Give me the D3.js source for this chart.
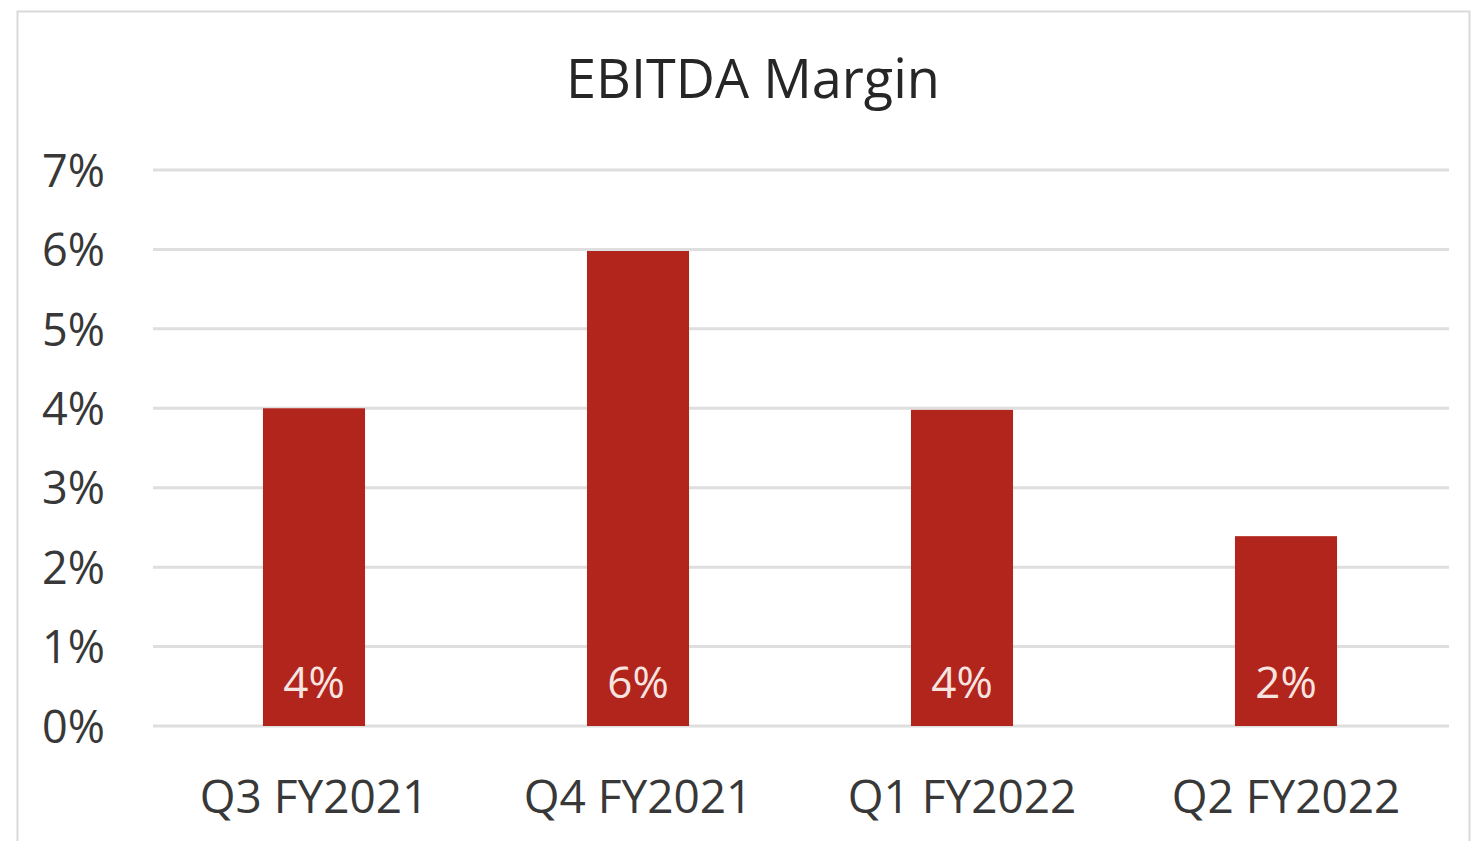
<!DOCTYPE html>
<html>
<head>
<meta charset="utf-8">
<script src="https://cdn.jsdelivr.net/npm/d3@7"></script>
<style>
  body { margin: 0; background: #fff; }
  svg { display: block; }
</style>
</head>
<body>
<script>
// chart data
var categories = ["Q3 FY2021", "Q4 FY2021", "Q1 FY2022", "Q2 FY2022"];
var margins = [4.0, 5.98, 3.98, 2.39];
var valueLabels = ["4%", "6%", "4%", "2%"];
var yTicks = [0, 1, 2, 3, 4, 5, 6, 7];

var W = 1472, H = 841;
var font = "'Open Sans', sans-serif";

var svg = d3.select("body").append("svg").attr("width", W).attr("height", H);

// outer frame
svg.append("rect")
  .attr("x", 17.5).attr("y", 11.5)
  .attr("width", 1452).attr("height", 850)
  .attr("fill", "#fff").attr("stroke", "#d9d9d9").attr("stroke-width", 2);

// scales
var x = d3.scaleBand().domain(categories).range([152, 1448]).paddingInner(0.685).paddingOuter(0.3425);
var y = d3.scaleLinear().domain([0, 7]).range([726, 170]);

// gridlines
svg.append("g").selectAll("line")
  .data(yTicks)
  .enter()
  .append("line")
  .attr("x1", 153).attr("x2", 1449)
  .attr("y1", function (d) { return y(d); })
  .attr("y2", function (d) { return y(d); })
  .attr("stroke", "#dedede").attr("stroke-width", 3);

// y axis labels
var yAxis = d3.axisLeft(y).tickValues(yTicks).tickFormat(function (d) { return d + "%"; }).tickSize(0).tickPadding(0);
var ya = svg.append("g").attr("transform", "translate(105,0)").call(yAxis);
ya.select(".domain").remove();
ya.selectAll("text")
  .attr("font-family", font).attr("font-size", 45).attr("font-weight", 500).attr("fill", "#383838")
  .attr("dy", "0.36em");

// bars
svg.append("g").selectAll("rect")
  .data(margins)
  .enter()
  .append("rect")
  .attr("x", function (d, i) { return x(categories[i]); })
  .attr("y", function (d) { return y(d); })
  .attr("width", x.bandwidth())
  .attr("height", function (d) { return y(0) - y(d); })
  .attr("fill", "#b1251c");

// value labels inside bars
svg.append("g").selectAll("text")
  .data(valueLabels)
  .enter()
  .append("text")
  .attr("x", function (d, i) { return x(categories[i]) + x.bandwidth() / 2; })
  .attr("y", 698)
  .attr("text-anchor", "middle")
  .attr("font-family", font).attr("font-size", 44).attr("font-weight", 500).attr("fill", "#f7e4e1")
  .text(function (d) { return d; });

// category labels
var xAxis = d3.axisBottom(x).tickSize(0).tickPadding(0);
var xa = svg.append("g").attr("transform", "translate(0,813)").call(xAxis);
xa.select(".domain").remove();
xa.selectAll("text")
  .attr("font-family", font).attr("font-size", 46).attr("font-weight", 500).attr("fill", "#383838")
  .attr("dy", 0);

// title
svg.append("text")
  .attr("x", 753).attr("y", 98)
  .attr("text-anchor", "middle")
  .attr("font-family", font).attr("font-size", 54).attr("font-weight", 500).attr("fill", "#262626")
  .text("EBITDA Margin");
</script>
</body>
</html>
